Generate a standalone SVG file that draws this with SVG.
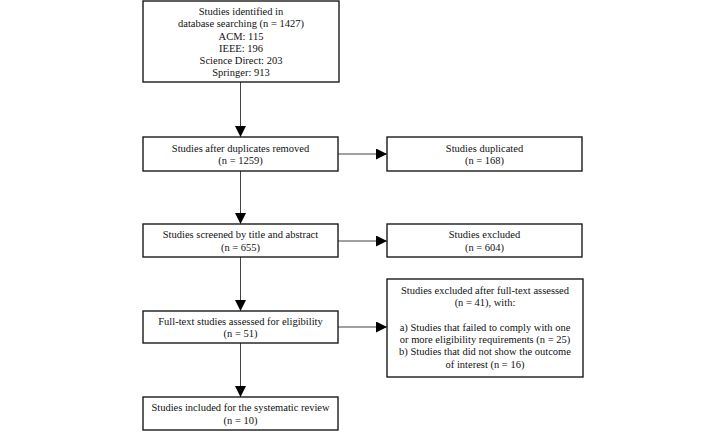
<svg xmlns="http://www.w3.org/2000/svg" width="725" height="433" viewBox="0 0 725 433">
<defs>
<marker id="ah" viewBox="0 0 11 11" refX="11" refY="5.5" markerWidth="11" markerHeight="11" markerUnits="userSpaceOnUse" orient="auto">
<path d="M0,0 L11,5.5 L0,11 z" fill="#000"/>
</marker>
<style>
.box{fill:#fff;stroke:#1a1a1a;stroke-width:1.4}
.t{font-family:"Liberation Serif","Times New Roman",serif;font-size:10.5px;fill:#111;text-anchor:middle}
.c{stroke:#444;stroke-width:1;fill:none;marker-end:url(#ah)}
</style>
</defs>
<rect width="725" height="433" fill="#fff"/>
<g id="connectors">
<line class="c" x1="240.5" y1="82" x2="240.5" y2="137"/>
<line class="c" x1="240.5" y1="171" x2="240.5" y2="224"/>
<line class="c" x1="240.5" y1="257" x2="240.5" y2="311"/>
<line class="c" x1="240.5" y1="343" x2="240.5" y2="397"/>
<line class="c" x1="338" y1="154" x2="387" y2="154"/>
<line class="c" x1="338" y1="241" x2="387" y2="241"/>
<line class="c" x1="338" y1="327" x2="387" y2="327"/>
</g>
<g id="n1">
<rect class="box" x="143" y="1" width="196" height="81"/>
<text class="t" x="241" y="15">Studies identified in</text>
<text class="t" x="241" y="27.3">database searching (n = 1427)</text>
<text class="t" x="241" y="39.5">ACM: 115</text>
<text class="t" x="241" y="51.7">IEEE: 196</text>
<text class="t" x="241" y="64">Science Direct: 203</text>
<text class="t" x="241" y="76.2">Springer: 913</text>
</g>
<g id="n2">
<rect class="box" x="143" y="137" width="195" height="34"/>
<text class="t" x="240.5" y="151.5">Studies after duplicates removed</text>
<text class="t" x="240.5" y="164">(n = 1259)</text>
</g>
<g id="n3">
<rect class="box" x="387" y="137" width="195" height="34"/>
<text class="t" x="484.5" y="151.5">Studies duplicated</text>
<text class="t" x="484.5" y="164">(n = 168)</text>
</g>
<g id="n4">
<rect class="box" x="143" y="224" width="195" height="33"/>
<text class="t" x="240.5" y="238">Studies screened by title and abstract</text>
<text class="t" x="240.5" y="250.5">(n = 655)</text>
</g>
<g id="n5">
<rect class="box" x="387" y="224" width="195" height="33"/>
<text class="t" x="484.5" y="238">Studies excluded</text>
<text class="t" x="484.5" y="250.5">(n = 604)</text>
</g>
<g id="n6">
<rect class="box" x="143" y="311" width="195" height="32"/>
<text class="t" x="240.5" y="324.5">Full-text studies assessed for eligibility</text>
<text class="t" x="240.5" y="337">(n = 51)</text>
</g>
<g id="n7">
<rect class="box" x="387" y="279" width="196" height="98"/>
<text class="t" x="485" y="293.7">Studies excluded after full-text assessed</text>
<text class="t" x="485" y="306">(n = 41), with:</text>
<text class="t" x="485" y="330.6">a) Studies that failed to comply with one</text>
<text class="t" x="485" y="342.9">or more eligibility requirements (n = 25)</text>
<text class="t" x="485" y="355.2">b) Studies that did not show the outcome</text>
<text class="t" x="485" y="367.5">of interest (n = 16)</text>
</g>
<g id="n8">
<rect class="box" x="143" y="397" width="195" height="33"/>
<text class="t" x="240.5" y="411">Studies included for the systematic review</text>
<text class="t" x="240.5" y="423.5">(n = 10)</text>
</g>
</svg>
